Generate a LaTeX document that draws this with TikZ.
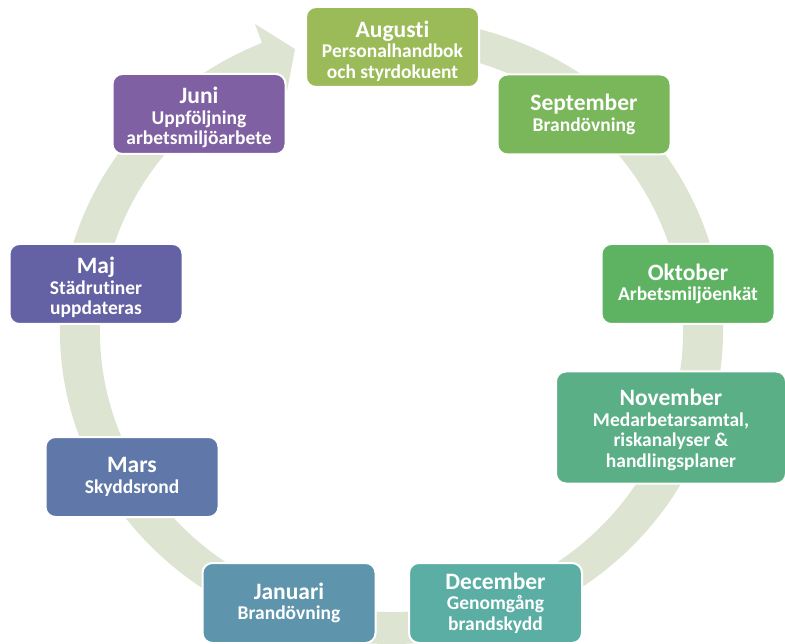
\documentclass[tikz,border=0pt]{standalone}
\usepackage{fontspec}
\setmainfont{Carlito}[Ligatures=NoCommon]

\definecolor{ringc}{RGB}{221,229,210}
\definecolor{augc}{RGB}{155,187,89}
\definecolor{sepc}{RGB}{122,182,90}
\definecolor{oktc}{RGB}{94,179,98}
\definecolor{novc}{RGB}{90,175,134}
\definecolor{decc}{RGB}{91,174,164}
\definecolor{janc}{RGB}{94,149,173}
\definecolor{marc}{RGB}{95,120,169}
\definecolor{majc}{RGB}{100,97,164}
\definecolor{junc}{RGB}{127,96,162}

% month name, with an optional strut to push the text down
\newcommand{\mtitle}[2][0pt]{{\fontsize{23.5}{25}\selectfont\rule{0pt}{#1}#2}}

\begin{document}
\begin{tikzpicture}[x=1pt, y=-1pt,
    month/.style={draw=white, line width=2pt, rounded corners=10pt,
      minimum width=173pt, minimum height=80pt, inner sep=0pt,
      text=white, align=center, font=\bfseries\fontsize{19.5}{20.5}\selectfont}]
  \useasboundingbox (0,0) rectangle (785,644);

  \coordinate (ring) at (391.5,331);
  \fill [ringc] ([shift={(-80:331.5 and 313)}]ring)
    arc [start angle=-80, end angle=247, x radius=331.5, y radius=313]
    -- (255,24) -- (295,49) -- (287,91)
    -- ([shift={(247:291.5 and 281)}]ring)
    arc [start angle=247, end angle=-80, x radius=291.5, y radius=281] -- cycle;

  \node [month, fill=augc] (aug) at (392.5,47)  {\mtitle[25pt]{Augusti}\\ Personalhandbok\\ och styrdokuent};
  \node [month, fill=sepc] (sep) at (584,114.5) {\mtitle{September}\\ Brandövning};
  \node [month, fill=oktc] (okt) at (688,284)   {\mtitle{Oktober}\\ Arbetsmiljöenkät};
  \node [month, fill=novc, minimum width=230pt, minimum height=112pt]
                           (nov) at (671,427.5) {\mtitle[21pt]{November}\\ Medarbetarsamtal,\\ riskanalyser \&\\ handlingsplaner};
  \node [month, fill=decc] (dec) at (495.5,603) {\mtitle{December}\\ Genomgång\\ brandskydd};
  \node [month, fill=janc] (jan) at (289,603)   {\mtitle{Januari}\\ Brandövning};
  \node [month, fill=marc] (mar) at (132,477)   {\mtitle{Mars}\\ Skyddsrond};
  \node [month, fill=majc] (maj) at (96,284)    {\mtitle[24pt]{Maj}\\ Städrutiner\\ uppdateras};
  \node [month, fill=junc] (jun) at (199,114)   {\mtitle[24pt]{Juni}\\ Uppföljning\\ arbetsmiljöarbete};
\end{tikzpicture}
\end{document}
